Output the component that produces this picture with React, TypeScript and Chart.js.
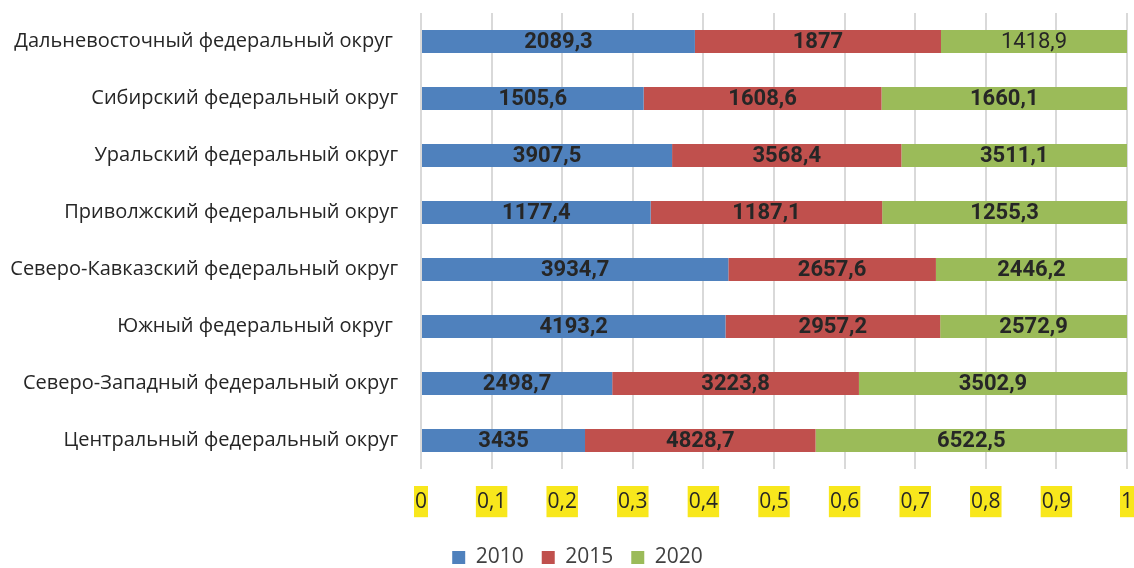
import React, { useEffect, useRef } from "react";
import { Chart, registerables } from "chart.js";

Chart.register(...registerables);

const categories = [
  "Дальневосточный федеральный округ ",
  "Сибирский федеральный округ",
  "Уральский федеральный округ",
  "Приволжский федеральный округ",
  "Северо-Кавказский федеральный округ",
  "Южный федеральный округ ",
  "Северо-Западный федеральный округ",
  "Центральный федеральный округ",
];

const seriesNames = ["2010", "2015", "2020"];
const values2010 = [2089.3, 1505.6, 3907.5, 1177.4, 3934.7, 4193.2, 2498.7, 3435];
const values2015 = [1877, 1608.6, 3568.4, 1187.1, 2657.6, 2957.2, 3223.8, 4828.7];
const values2020 = [1418.9, 1660.1, 3511.1, 1255.3, 2446.2, 2572.9, 3502.9, 6522.5];
const seriesColors = ["#4f81bd", "#c0504d", "#9bbb59"];

const allValues = [values2010, values2015, values2020];
const totals = categories.map((_, j) => allValues.reduce((s, arr) => s + arr[j], 0));

const fmt = (v: number) => String(v).replace(".", ",");

const dataLabelPlugin = {
  id: "dataLabels",
  afterDatasetsDraw(chart: any) {
    const ctx = chart.ctx;
    ctx.save();
    ctx.textAlign = "center";
    ctx.textBaseline = "middle";
    ctx.fillStyle = "#262626";
    chart.data.datasets.forEach((ds: any, i: number) => {
      const meta = chart.getDatasetMeta(i);
      meta.data.forEach((bar: any, j: number) => {
        const { x, base, y } = bar.getProps(["x", "base", "y"], true);
        const regular = i === 2 && j === 0;
        ctx.font = `${regular ? "400" : "700"} 22px Roboto, "Open Sans", sans-serif`;
        ctx.fillText(fmt(allValues[i][j]), (x + base) / 2, y + 1);
      });
    });
    ctx.restore();
  },
};

const shiftLegendPlugin = {
  id: "shiftLegend",
  afterLayout(chart: any) {
    const l = chart.legend;
    if (l) {
      l.left += 14;
      l.right += 14;
      l.top += 10;
      l.bottom += 10;
    }
  },
};

const zeroPad = (scale: any) => {
  scale.paddingTop = 0;
  scale.paddingBottom = 0;
  scale.paddingLeft = 0;
  scale.paddingRight = 0;
};

export default function App() {
  const canvasRef = useRef<HTMLCanvasElement | null>(null);

  useEffect(() => {
    document.body.style.margin = "0";
    const canvas = canvasRef.current;
    if (!canvas) return;
    const chart = new Chart(canvas, {
      type: "bar",
      data: {
        labels: categories,
        datasets: allValues.map((arr, i) => ({
          label: seriesNames[i],
          data: arr.map((v, j) => v / totals[j]),
          backgroundColor: seriesColors[i],
          borderWidth: 0,
          barPercentage: 0.4,
          categoryPercentage: 1,
        })),
      },
      options: {
        indexAxis: "y",
        animation: false,
        responsive: true,
        maintainAspectRatio: false,
        layout: { padding: { top: 13, right: 7, left: 0, bottom: 0 } },
        scales: {
          x: {
            stacked: true,
            min: 0,
            max: 1,
            border: { display: false },
            grid: { color: "#d9d9d9", lineWidth: 2, drawTicks: false },
            afterFit(scale: any) {
              scale.height = 50;
              zeroPad(scale);
            },
            ticks: {
              stepSize: 0.1,
              autoSkip: false,
              maxRotation: 0,
              padding: 20,
              color: "#262626",
              font: { family: "'Open Sans', sans-serif", size: 21 },
              showLabelBackdrop: true,
              backdropColor: "#f8e71c",
              backdropPadding: { x: 1, y: 3 },
              callback: (v: any) => fmt(Math.round(Number(v) * 10) / 10),
            },
          },
          y: {
            stacked: true,
            border: { display: false },
            grid: { display: false, drawTicks: false },
            afterFit(scale: any) {
              scale.width = 421;
              zeroPad(scale);
            },
            ticks: {
              padding: 23,
              color: "#262626",
              font: { family: "'Open Sans', sans-serif", size: 20 },
            },
          },
        },
        plugins: {
          legend: {
            position: "bottom",
            labels: {
              boxWidth: 13,
              boxHeight: 13,
              padding: 18,
              color: "#404040",
              font: { family: "'Open Sans', sans-serif", size: 21 },
            },
          },
          tooltip: { enabled: false },
        },
      },
      plugins: [dataLabelPlugin, shiftLegendPlugin],
    } as any);
    return () => chart.destroy();
  }, []);

  return (
    <div style={{ width: 1134, height: 568, position: "relative" }}>
      <canvas ref={canvasRef} />
    </div>
  );
}
